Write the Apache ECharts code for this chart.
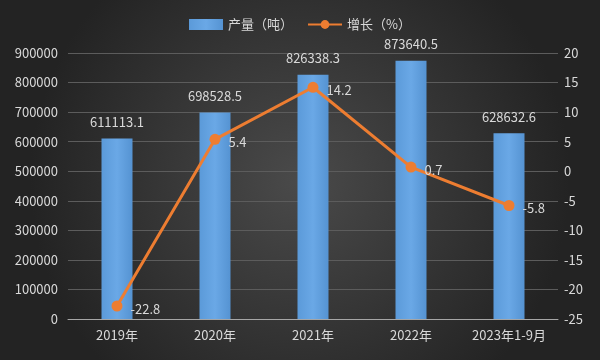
<!DOCTYPE html>
<html><head><meta charset="utf-8">
<script src="https://cdn.jsdelivr.net/npm/echarts@6/dist/echarts.min.js"></script>
<style>html,body{margin:0;padding:0;background:#333;}#c{width:600px;height:360px;}</style>
</head><body><div id="c"></div>
<script>
const categories = ['2019年','2020年','2021年','2022年','2023年1-9月'];
const output = [611113.1, 698528.5, 826338.3, 873640.5, 628632.6];
const growth = [-22.8, 5.4, 14.2, 0.7, -5.8];
const seriesNames = ['产量（吨）','增长（%）'];

const font = '"Noto Sans CJK SC", "Noto Sans", sans-serif';
const txt = '#d9d9d9';
const chart = echarts.init(document.getElementById('c'));
chart.setOption({
  backgroundColor: new echarts.graphic.RadialGradient(0.5, 0.5, 0.75, [
    {offset: 0, color: '#4a4a4a'}, {offset: 1, color: '#232323'}
  ]),
  textStyle: {fontFamily: font},
  legend: {
    top: 13, left: 'center', itemGap: 14, itemWidth: 34, itemHeight: 11,
    textStyle: {color: txt, fontSize: 13, fontFamily: font},
    data: [{name: seriesNames[0], icon: 'rect'}, {name: seriesNames[1]}]
  },
  grid: {left: 68, right: 42, top: 53, bottom: 41},
  xAxis: {
    type: 'category', data: categories,
    axisLine: {lineStyle: {color: '#a6a6a6', width: 1}},
    axisTick: {show: false},
    axisLabel: {color: txt, fontSize: 13, margin: 10, fontFamily: font}
  },
  yAxis: [{
    type: 'value', min: 0, max: 900000, interval: 100000,
    axisLine: {show: false}, axisTick: {show: false},
    axisLabel: {color: txt, fontSize: 13, margin: 10, fontFamily: font, formatter: v => String(v)},
    splitLine: {lineStyle: {color: '#5c5c5c', width: 1}}
  }, {
    type: 'value', min: -25, max: 20, interval: 5,
    axisLine: {show: false}, axisTick: {show: false},
    axisLabel: {color: txt, fontSize: 13, margin: 6, fontFamily: font},
    splitLine: {show: false}
  }],
  series: [{
    name: seriesNames[0], type: 'bar', data: output, barWidth: 31,
    itemStyle: {color: new echarts.graphic.LinearGradient(0,0,1,0,[
      {offset: 0, color: '#5b9ad9'}, {offset: 0.5, color: '#6aa8e6'}, {offset: 1, color: '#5593d2'}
    ])},
    label: {show: true, position: 'top', distance: 10, color: txt, fontSize: 13, fontFamily: font,
      formatter: p => p.value.toFixed(1)}
  }, {
    name: seriesNames[1], type: 'line', yAxisIndex: 1, data: growth,
    symbol: 'circle', symbolSize: 11,
    lineStyle: {color: '#ed7d31', width: 3},
    itemStyle: {color: '#ed7d31'},
    label: {show: true, position: 'right', distance: 8, offset: [0, 3], color: txt, fontSize: 13, fontFamily: font,
      formatter: p => String(p.value)}
  }]
});
</script></body></html>
